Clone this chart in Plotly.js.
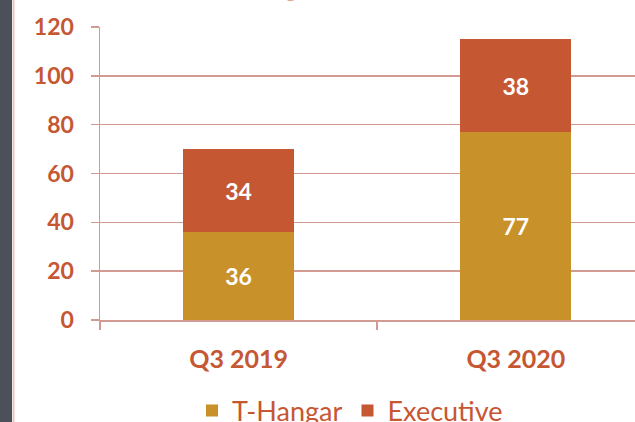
<!DOCTYPE html>
<html>
<head>
<meta charset="utf-8">
<script src="https://cdn.plot.ly/plotly-3.0.1.min.js"></script>
<style>html,body{margin:0;padding:0;background:#fff;}#chart{width:635px;height:422px;}</style>
</head>
<body>
<div id="chart"></div>
<script>
const categories = ["Q3 2019", "Q3 2020"];
const tHangar = [36, 77];
const executive = [34, 38];
const seriesNames = ["T-Hangar", "Executive"];
const yTicks = [0, 20, 40, 60, 80, 100, 120];

const gold = "#C9912A";
const rust = "#C65733";
const grid = "#D39A92";
const font = "Lato, 'Open Sans', sans-serif";

const W = 635, H = 422, ml = 100, mr = 0, mt = 27, mb = 102;
const pw = W - ml - mr, ph = H - mt - mb;
const px = x => (x - ml) / pw;
const py = y => (H - mb - y) / ph;

const traces = [
  {type: "bar", name: seriesNames[0], x: categories, y: tHangar, marker: {color: gold},
   text: tHangar.map(String), textposition: "inside", insidetextanchor: "middle",
   textfont: {family: font, size: 23, color: "#fff", weight: 700}, width: 0.4, hoverinfo: "none"},
  {type: "bar", name: seriesNames[1], x: categories, y: executive, marker: {color: rust},
   text: executive.map(String), textposition: "inside", insidetextanchor: "middle",
   textfont: {family: font, size: 23, color: "#fff", weight: 700}, width: 0.4, hoverinfo: "none"}
];

const layout = {
  width: W, height: H,
  margin: {l: ml, r: mr, t: mt, b: mb, autoexpand: false},
  barmode: "stack",
  paper_bgcolor: "#fff", plot_bgcolor: "#fff",
  showlegend: true,
  legend: {orientation: "h", x: px(350), xanchor: "center", y: py(411), yanchor: "middle",
           font: {family: font, size: 27, color: rust}, traceorder: "normal", itemwidth: 30},
  xaxis: {type: "category", range: [-0.5, 1.43], tickson: "boundaries", ticks: "outside",
          ticklen: 8, tickcolor: grid, tickwidth: 1.5, showgrid: false, showline: true,
          linecolor: grid, linewidth: 1.5, zeroline: false, ticklabelstandoff: 16,
          tickfont: {family: font, size: 25, color: rust, weight: 700}},
  yaxis: {range: [0, 120], tickvals: yTicks, ticks: "outside", ticklen: 8, tickcolor: grid,
          tickwidth: 1.5, showgrid: true, gridcolor: grid, gridwidth: 1.5, showline: true,
          linecolor: grid, linewidth: 1.5, zeroline: false, ticklabelstandoff: 12,
          tickfont: {family: font, size: 23, color: rust, weight: 700}},
  shapes: [
    {type: "rect", xref: "paper", yref: "paper", x0: px(0), x1: px(12), y0: py(H), y1: py(0),
     fillcolor: "#4B5059", line: {width: 0}, layer: "above"},
    {type: "line", xref: "paper", yref: "paper", x0: px(13.5), x1: px(13.5), y0: py(H), y1: py(0),
     line: {color: "#EBC4C0", width: 2}}
  ],
  annotations: [
    {text: "g", xref: "paper", yref: "paper", x: px(291), y: py(4), xanchor: "center", yanchor: "bottom",
     showarrow: false, font: {family: font, size: 44, color: rust, weight: 700}}
  ]
};

Plotly.newPlot("chart", traces, layout, {displayModeBar: false, staticPlot: true});
</script>
</body>
</html>
